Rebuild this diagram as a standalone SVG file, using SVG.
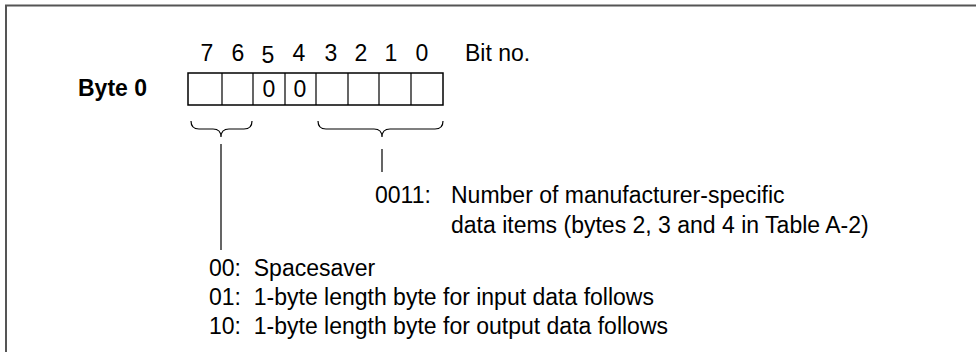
<svg xmlns="http://www.w3.org/2000/svg" width="976" height="352" viewBox="0 0 976 352">
<style>
text{font-family:"Liberation Sans",Arial,sans-serif;font-size:23px;fill:#000}
.b{font-weight:bold}
.cell{fill:#fff;stroke:#000;stroke-width:1.5}
.ln{fill:none;stroke:#000;stroke-width:1.2}
</style>
<rect width="976" height="352" fill="#fff"/>
<path d="M6,352 V5.5 H976" fill="none" stroke="#555" stroke-width="2"/>
<g id="bitnumbers">
<text x="207" y="61" text-anchor="middle">7</text>
<text x="238" y="61" text-anchor="middle">6</text>
<text x="268" y="63" text-anchor="middle">5</text>
<text x="299" y="61" text-anchor="middle">4</text>
<text x="331" y="61" text-anchor="middle">3</text>
<text x="361" y="61" text-anchor="middle">2</text>
<text x="391" y="61" text-anchor="middle">1</text>
<text x="422" y="61" text-anchor="middle">0</text>
<text x="465" y="61">Bit no.</text>
</g>
<g id="byte0">
<text class="b" x="78" y="96">Byte 0</text>
<rect class="cell" x="188" y="73" width="255" height="32"/>
<path class="ln" d="M222,73V105M253,73V105M285,73V105M316,73V105M348,73V105M379,73V105M411,73V105" stroke-width="1.5"/>
<text x="269" y="97" text-anchor="middle">0</text>
<text x="300" y="97" text-anchor="middle">0</text>
</g>
<g id="connectors">
<path class="ln" d="M191,121 Q191,129 199,129 L213,129 Q221,129 221,137 Q221,129 229,129 L244,129 Q252,129 252,121"/>
<path class="ln" d="M318,121 Q318,129 326,129 L374,129 Q382,129 382,137 Q382,129 390,129 L435,129 Q443,129 443,121"/>
<path class="ln" d="M221,144V250M382,149V172"/>
</g>
<g id="note-0011">
<text x="375" y="203">0011:</text>
<text x="451" y="203">Number of manufacturer-specific</text>
<text x="451" y="233">data items (bytes 2, 3 and 4 in Table A-2)</text>
</g>
<g id="note-00">
<text x="209" y="276" xml:space="preserve">00:  Spacesaver</text>
<text x="209" y="305" xml:space="preserve">01:  1-byte length byte for input data follows</text>
<text x="209" y="334" xml:space="preserve">10:  1-byte length byte for output data follows</text>
</g>
</svg>
